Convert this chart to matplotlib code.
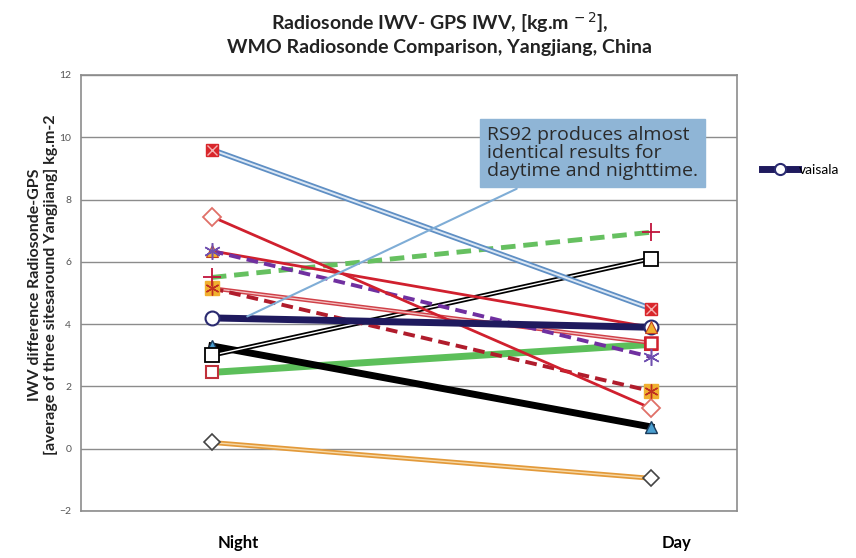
import matplotlib.pyplot as plt
import matplotlib.transforms as mtransforms

plt.rcParams['font.family'] = ['Lato', 'DejaVu Sans']

# categories and IWV differences (Night, Day)
periods = ['Night', 'Day']
lightblue_dbl = [9.6, 4.5]
red_diamond = [7.45, 1.3]
red_triangle = [6.35, 3.9]
purple_dash = [6.35, 2.95]
green_dash = [5.5, 6.95]
red_dash = [5.15, 1.85]
red_dbl = [5.15, 3.4]
vaisala = [4.2, 3.9]
black_dbl = [3.0, 6.1]
black_thick = [3.3, 0.7]
green_thick = [2.45, 3.35]
orange_dbl = [0.2, -0.95]

x = [0, 1]

fig = plt.figure(figsize=(8.56, 5.58), dpi=100)
ax = fig.add_axes([81 / 856, 1 - 511 / 558, 656 / 856, 436 / 558])

ax.set_xlim(-0.298, 1.196)
ax.set_ylim(-2, 12)
ax.set_yticks(range(-2, 13, 2))
ax.yaxis.grid(True, color='#8c8c8c', lw=1)
ax.set_axisbelow(True)
for s in ax.spines.values():
    s.set_color('#8c8c8c')
    s.set_linewidth(1.2)
ax.tick_params(axis='y', length=0, labelsize=7.5, labelcolor='#555555', pad=7)
ax.tick_params(axis='x', length=0, labelsize=12, pad=17)
ax.set_xticks(x)
ax.set_xticklabels(periods, fontweight='bold')
off = mtransforms.ScaledTranslation(0.26, 0, fig.dpi_scale_trans)
for lab in ax.get_xticklabels():
    lab.set_transform(lab.get_transform() + off)

# orange double line
ax.plot(x, orange_dbl, color='#e39a3a', lw=3.5, zorder=2)
ax.plot(x, orange_dbl, color='#f6d9a8', lw=1, zorder=2)
ax.plot(x, orange_dbl, ls='none', marker='D', ms=8, mfc='white', mec='#444444', mew=1.2, zorder=5)

# green thick
ax.plot(x, green_thick, color='#5cbf5a', lw=5, zorder=3)
ax.plot(x, green_thick, ls='none', marker='s', ms=8, mfc='white', mec='#c0303a', mew=1.5, zorder=5)

# black thick with blue triangles
ax.plot(x, black_thick, color='black', lw=5, zorder=3)
ax.plot(x, black_thick, ls='none', marker='^', ms=9, mfc='#4a9fd0', mec='#1a3a5a', mew=1, zorder=5)

# black double line
ax.plot(x, black_dbl, color='black', lw=3.5, zorder=3)
ax.plot(x, black_dbl, color='white', lw=1, zorder=3)
ax.plot(x, black_dbl, ls='none', marker='s', ms=10, mfc='white', mec='black', mew=1.3, zorder=5)

# red double thin line
ax.plot(x, red_dbl, color='#d04048', lw=3, zorder=3)
ax.plot(x, red_dbl, color='#f3c4c4', lw=0.9, zorder=3)
ax.plot(x[1:], red_dbl[1:], ls='none', marker='s', ms=9, mfc='white', mec='#d0202e', mew=1.8, zorder=5)

# red dashed
ax.plot(x, red_dash, color='#b01c2c', lw=2.8, ls=(0, (3, 1.6)), zorder=3)
ax.plot(x, red_dash, ls='none', marker='s', ms=10, mfc='#f0b030', mec='#f0b030', zorder=5)
ax.plot(x, red_dash, ls='none', marker=(6, 2, 0), ms=10, mec='#c03020', mew=1, zorder=6)

# green dashed
ax.plot(x, green_dash, color='#66c060', lw=3.5, ls=(0, (3, 1.6)), zorder=3)
ax.plot(x, green_dash, ls='none', marker='+', ms=13, mec='#c0143c', mew=1.3, zorder=5)

# red with orange triangles
ax.plot(x, red_triangle, color='#d0202e', lw=2, zorder=3)
ax.plot(x, red_triangle, ls='none', marker='^', ms=9, mfc='#f0b030', mec='#c04020', mew=0.8, zorder=5)

# purple dashed
ax.plot(x, purple_dash, color='#7030a0', lw=2.8, ls=(0, (3, 1.6)), zorder=3)
ax.plot(x, purple_dash, ls='none', marker=(6, 2, 0), ms=12, mec='#7050b0', mew=1.1, zorder=6)

# red with open diamonds
ax.plot(x, red_diamond, color='#d0202e', lw=2, zorder=3)
ax.plot(x, red_diamond, ls='none', marker='D', ms=9, mfc='white', mec='#e07068', mew=1.3, zorder=5)

# light blue double line
ax.plot(x, lightblue_dbl, color='#5f8fc4', lw=4, zorder=3)
ax.plot(x, lightblue_dbl, color='#dce8f5', lw=1.4, zorder=3)
ax.plot(x, lightblue_dbl, ls='none', marker='s', ms=9, mfc='#d9262b', mec='#d9262b', zorder=5)
ax.plot(x, lightblue_dbl, ls='none', marker='x', ms=7, mec='#f4b0b0', mew=1, zorder=6)

# vaisala
ax.plot(x, vaisala, color='#1f1a5e', lw=5, zorder=4, marker='o', ms=10,
        mfc='white', mec='#2a2a70', mew=1.5, label='vaisala')

ax.annotate('RS92 produces almost\nidentical results for\ndaytime and nighttime.',
            xy=(0.075, 4.21), xytext=(0.626, 8.62),
            fontsize=14, family=['Open Sans', 'DejaVu Sans'], color='#2a2a2a',
            va='bottom', ha='left', linespacing=1.02,
            bbox=dict(boxstyle='square,pad=0.35', fc='#8fb5d6', ec='#8fb5d6'),
            arrowprops=dict(arrowstyle='-', color='#7fadd6', lw=1.5),
            zorder=7)

fig.legend(loc='center left', bbox_to_anchor=(0.875, 0.696), frameon=False,
           handlelength=2.6, handletextpad=0.1, fontsize=10, markerscale=0.8)

fig.text(0.514, 0.96, 'Radiosonde IWV- GPS IWV, [kg.m$^{\\,-2}$],', ha='center', va='center',
         fontsize=14, fontweight='bold', color='#222222')
fig.text(0.514, 0.915, 'WMO Radiosonde Comparison, Yangjiang, China', ha='center', va='center',
         fontsize=14, fontweight='bold', color='#222222')
fig.text(0.05, 0.49, 'IWV difference Radiosonde-GPS\n[average of three sitesaround Yangjiang] kg.m-2',
         rotation=90, ha='center', va='center', fontsize=11.5, fontweight='bold',
         color='#222222', linespacing=1.15)

fig.savefig('out.png', dpi=100)
